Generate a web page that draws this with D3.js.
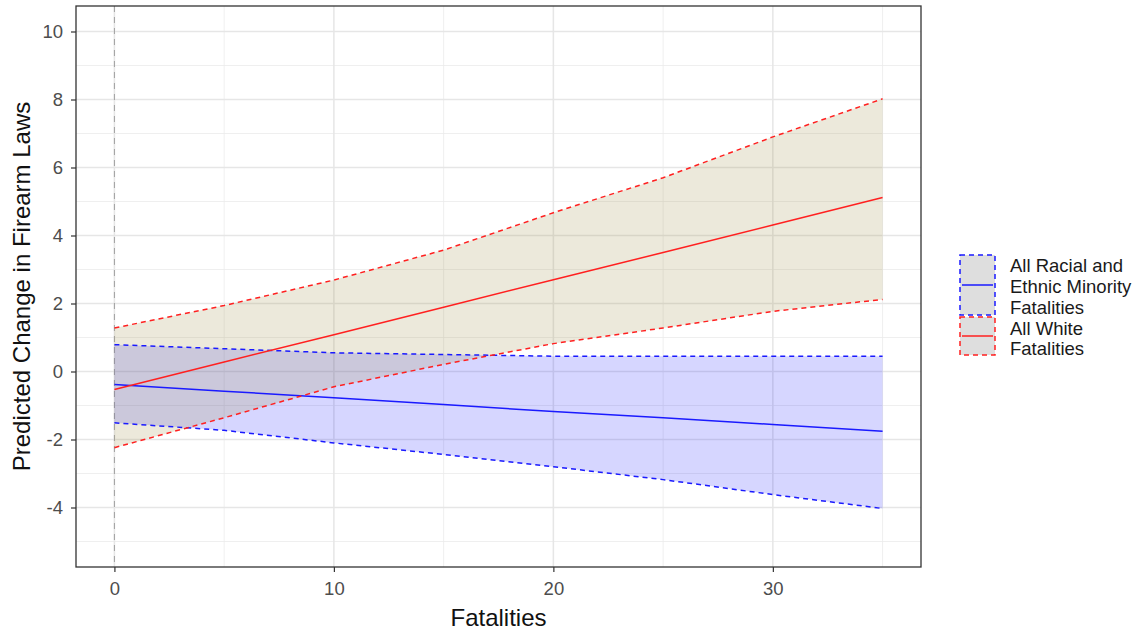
<!DOCTYPE html>
<html>
<head>
<meta charset="utf-8">
<script src="https://cdn.jsdelivr.net/npm/d3@7"></script>
<style>
  body { margin: 0; background: white; }
  text { font-family: "Liberation Sans", Arial, sans-serif; }
</style>
</head>
<body>
<div id="container"></div>
<script>
// data
let fatalities = [0, 5, 10, 15, 20, 25, 30, 35];
let minorityFit = [-0.38, -0.58, -0.77, -0.97, -1.18, -1.36, -1.56, -1.76];
let minorityLow = [-1.51, -1.73, -2.10, -2.44, -2.80, -3.18, -3.62, -4.03];
let minorityHigh = [0.79, 0.67, 0.55, 0.50, 0.45, 0.45, 0.45, 0.45];
let whiteFit = [-0.53, 0.28, 1.08, 1.89, 2.70, 3.50, 4.31, 5.12];
let whiteLow = [-2.24, -1.36, -0.45, 0.21, 0.82, 1.28, 1.77, 2.12];
let whiteHigh = [1.28, 1.94, 2.69, 3.57, 4.67, 5.70, 6.90, 8.02];
let xTicks = [0, 10, 20, 30];
let xMinor = [5, 15, 25, 35];
let yTicks = [-4, -2, 0, 2, 4, 6, 8, 10];
let yMinor = [-5, -3, -1, 1, 3, 5, 7, 9];
let legendLabels = [["All Racial and", "Ethnic Minority", "Fatalities"], ["All White", "Fatalities"]];

let w = 1146, h = 634;
let pLeft = 76, pRight = 921, pTop = 6, pBottom = 567;

let svg = d3.select("#container").append("svg")
    .attr("width", w)
    .attr("height", h)
    .style("background-color", "white");

let x = d3.scaleLinear().domain([-1.75, 36.75]).range([pLeft, pRight]);
let y = d3.scaleLinear().domain([-5.75, 10.75]).range([pBottom, pTop]);

// grid
svg.selectAll(".ymin").data(yMinor).enter().append("line")
    .attr("x1", pLeft).attr("x2", pRight)
    .attr("y1", d => y(d)).attr("y2", d => y(d))
    .attr("stroke", "#ebebeb").attr("stroke-width", 0.8);
svg.selectAll(".xmin").data(xMinor).enter().append("line")
    .attr("y1", pTop).attr("y2", pBottom)
    .attr("x1", d => x(d)).attr("x2", d => x(d))
    .attr("stroke", "#ebebeb").attr("stroke-width", 0.8);
svg.selectAll(".ymaj").data(yTicks).enter().append("line")
    .attr("x1", pLeft).attr("x2", pRight)
    .attr("y1", d => y(d)).attr("y2", d => y(d))
    .attr("stroke", "#e6e6e6").attr("stroke-width", 1.5);
svg.selectAll(".xmaj").data(xTicks).enter().append("line")
    .attr("y1", pTop).attr("y2", pBottom)
    .attr("x1", d => x(d)).attr("x2", d => x(d))
    .attr("stroke", "#e6e6e6").attr("stroke-width", 1.5);

// vertical reference line at 0
svg.append("line")
    .attr("x1", x(0)).attr("x2", x(0))
    .attr("y1", pTop).attr("y2", pBottom)
    .attr("stroke", "#a0a0a0").attr("stroke-width", 1)
    .attr("stroke-dasharray", "6,5");

let pts = (arr) => fatalities.map((f, i) => [f, arr[i]]);
let area = (lo, hi) => d3.area()
    .x((d, i) => x(fatalities[i]))
    .y0((d, i) => y(lo[i]))
    .y1((d, i) => y(hi[i]))(fatalities);
let line = d3.line().x(d => x(d[0])).y(d => y(d[1]));

// ribbons
svg.append("path").attr("d", area(minorityLow, minorityHigh))
    .attr("fill", "rgb(0,0,255)").attr("fill-opacity", 0.16);
svg.append("path").attr("d", area(whiteLow, whiteHigh))
    .attr("fill", "rgb(160,145,75)").attr("fill-opacity", 0.2);

// lines
let series = [
  {fit: minorityFit, lo: minorityLow, hi: minorityHigh, color: "#1a1aff"},
  {fit: whiteFit, lo: whiteLow, hi: whiteHigh, color: "#ff2020"}
];
series.forEach(s => {
  [s.lo, s.hi].forEach(b => {
    svg.append("path").attr("d", line(pts(b)))
      .attr("fill", "none").attr("stroke", s.color)
      .attr("stroke-width", 1.5).attr("stroke-dasharray", "5,4");
  });
  svg.append("path").attr("d", line(pts(s.fit)))
    .attr("fill", "none").attr("stroke", s.color).attr("stroke-width", 1.5);
});

// panel border
svg.append("rect")
    .attr("x", pLeft).attr("y", pTop)
    .attr("width", pRight - pLeft).attr("height", pBottom - pTop)
    .attr("fill", "none").attr("stroke", "#333333").attr("stroke-width", 1.3);

// axes
let xAxis = svg.append("g")
    .attr("transform", `translate(0,${pBottom})`)
    .call(d3.axisBottom(x).tickValues(xTicks).tickFormat(d => String(d)).tickSize(5).tickPadding(10));
let yAxis = svg.append("g")
    .attr("transform", `translate(${pLeft},0)`)
    .call(d3.axisLeft(y).tickValues(yTicks).tickFormat(d => String(d)).tickSize(5).tickPadding(8));
[xAxis, yAxis].forEach(g => {
  g.select(".domain").remove();
  g.selectAll(".tick line").attr("stroke", "#333333").attr("stroke-width", 1.2);
  g.selectAll(".tick text")
    .attr("fill", "#4d4d4d")
    .style("font-size", "18.5px")
    .style("font-family", "Liberation Sans, Arial, sans-serif");
});

// axis titles
svg.append("text")
    .attr("x", (pLeft + pRight) / 2).attr("y", 626)
    .attr("text-anchor", "middle")
    .style("font-size", "24px")
    .attr("fill", "#111")
    .text("Fatalities");
svg.append("text")
    .attr("transform", `translate(30,${(pTop + pBottom) / 2}) rotate(-90)`)
    .attr("text-anchor", "middle")
    .style("font-size", "24px")
    .attr("fill", "#111")
    .text("Predicted Change in Firearm Laws");

// legend
let keys = [
  {y0: 255, y1: 315, color: "#1a1aff", lines: legendLabels[0]},
  {y0: 317, y1: 355, color: "#ff2020", lines: legendLabels[1]}
];
let lineH = 20.7;
let textY = 266;
keys.forEach(k => {
  svg.append("rect")
    .attr("x", 960).attr("y", k.y0)
    .attr("width", 35).attr("height", k.y1 - k.y0)
    .attr("fill", "#dedede").attr("stroke", k.color)
    .attr("stroke-width", 1.5).attr("stroke-dasharray", "5,4");
  svg.append("line")
    .attr("x1", 962).attr("x2", 993)
    .attr("y1", (k.y0 + k.y1) / 2).attr("y2", (k.y0 + k.y1) / 2)
    .attr("stroke", k.color).attr("stroke-width", 1.5);
  k.lines.forEach(t => {
    svg.append("text")
      .attr("x", 1010).attr("y", textY)
      .attr("dy", "0.35em")
      .style("font-size", "18.5px")
      .attr("fill", "#1a1a1a")
      .text(t);
    textY += lineH;
  });
});
</script>
</body>
</html>
